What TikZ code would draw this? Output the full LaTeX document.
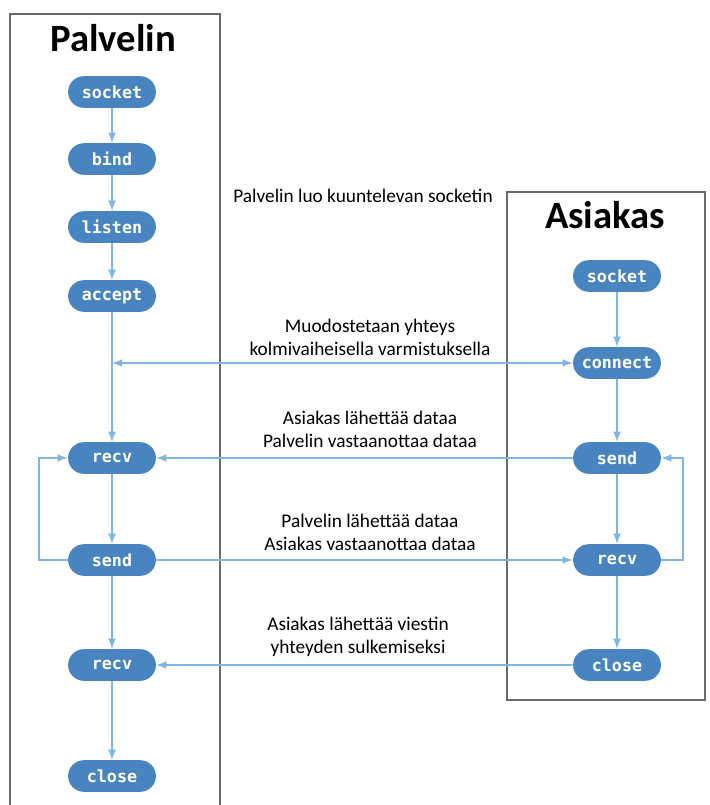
\documentclass[tikz,border=0pt]{standalone}
\usepackage{fontspec}
\setmainfont{Carlito}
\newfontfamily\codefont{DejaVu Sans Mono}
\usetikzlibrary{shapes.misc}

\definecolor{callblue}{RGB}{72,132,192}
\definecolor{flowblue}{RGB}{128,180,226}
\definecolor{framegray}{RGB}{105,105,105}

\tikzset{
  call/.style={rounded rectangle, fill=callblue, text=white, inner sep=0pt,
    minimum width=50pt, minimum height=18pt,
    font=\codefont\bfseries\fontsize{9.5}{11}\selectfont},
  flow/.style={->, flowblue, line width=1pt},
  note/.style={align=center, font=\fontsize{11}{13}\selectfont},
  sidetitle/.style={font=\bfseries\fontsize{22}{26}\selectfont},
  frame/.style={framegray, line width=0.8pt}
}

\begin{document}
\begin{tikzpicture}[x=0.02cm, y=-0.02cm, >=latex]
    \useasboundingbox (0,0) rectangle (710,805);

    % Palvelin
    \draw[frame] (10,805) -- (10,14) -- (220,14) -- (220,805);
    \node[sidetitle] (ptitle) at (113,38) {Palvelin};
    \node[call] (psocket) at (112,92) {socket};
    \node[call] (pbind) at (112,159) {bind};
    \node[call] (plisten) at (112,227) {listen};
    \node[call] (paccept) at (112,296) {accept};
    \node[call] (precv) at (112,458) {recv};
    \node[call] (psend) at (112,560) {send};
    \node[call] (precvb) at (112,665) {recv};
    \node[call] (pclose) at (112,776) {close};
    \coordinate (plink) at (112,363);

    \draw[flow] (psocket) -- (pbind);
    \draw[flow] (pbind) -- (plisten);
    \draw[flow] (plisten) -- (paccept);
    \draw[flow] (paccept) -- (precv);
    \draw[flow] (precv) -- (psend);
    \draw[flow] (psend) -- (precvb);
    \draw[flow] (precvb) -- (pclose);
    \draw[flow] (psend.west) -- ++(-29,0) |- (precv.west);

    % Asiakas
    \draw[frame] (507,192) rectangle (705,700);
    \node[sidetitle] (atitle) at (605,215) {Asiakas};
    \node[call] (asocket) at (617,276) {socket};
    \node[call] (aconnect) at (617,363) {connect};
    \node[call] (asend) at (617,458) {send};
    \node[call] (arecv) at (617,560) {recv};
    \node[call] (aclose) at (617,665) {close};

    \draw[flow] (asocket) -- (aconnect);
    \draw[flow] (aconnect) -- (asend);
    \draw[flow] (asend) -- (arecv);
    \draw[flow] (arecv) -- (aclose);
    \draw[flow] (arecv.east) -- ++(22,0) |- (asend.east);

    % Viestit
    \draw[flow, <->] (plink) -- (aconnect.west);
    \draw[flow] (asend) -- (precv);
    \draw[flow] (psend) -- (arecv);
    \draw[flow] (aclose) -- (precvb);

    \node[note] (nlisten) at (363,196) {Palvelin luo kuuntelevan socketin};
    \node[note] (nconnect) at (370,337) {Muodostetaan yhteys\\kolmivaiheisella varmistuksella};
    \node[note] (nsend) at (370,429) {Asiakas lähettää dataa\\Palvelin vastaanottaa dataa};
    \node[note] (nrecv) at (370,532) {Palvelin lähettää dataa\\Asiakas vastaanottaa dataa};
    \node[note] (nclose) at (358,637) {Asiakas lähettää viestin\\yhteyden sulkemiseksi};
\end{tikzpicture}
\end{document}
